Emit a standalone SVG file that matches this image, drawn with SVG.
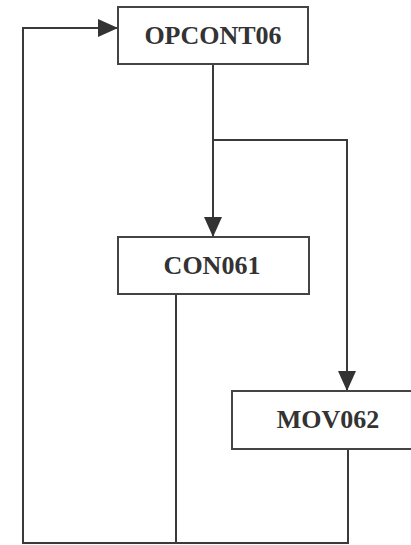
<svg xmlns="http://www.w3.org/2000/svg" width="411" height="545" viewBox="0 0 411 545">
<style>
.box{fill:#fff;stroke:#444;stroke-width:2}
.lbl{font-family:"Liberation Serif","Times New Roman",serif;font-weight:bold;font-size:26px;fill:#333;text-anchor:middle}
.ln{fill:none;stroke:#3a3a3a;stroke-width:2}
</style>
<defs>
<marker id="ah" markerWidth="20" markerHeight="18" refX="20" refY="9" orient="auto" markerUnits="userSpaceOnUse">
<path d="M0,0 L20,9 L0,18 Z" fill="#333"/>
</marker>
</defs>
<g id="connectors">
<path class="ln" d="M213,64 V237" marker-end="url(#ah)"/>
<path class="ln" d="M213,140 H347 V391" marker-end="url(#ah)"/>
<path class="ln" d="M176,294 V543 H23 V28 H118" marker-end="url(#ah)"/>
<path class="ln" d="M348,449 V543 H176"/>
</g>
<g id="OPCONT06">
<rect class="box" x="118" y="7" width="190" height="57"/>
<text class="lbl" x="213" y="44">OPCONT06</text>
</g>
<g id="CON061">
<rect class="box" x="118" y="237" width="191" height="57"/>
<text class="lbl" x="212" y="274">CON061</text>
</g>
<g id="MOV062">
<rect class="box" x="232" y="391" width="190" height="58"/>
<text class="lbl" x="328" y="428">MOV062</text>
</g>
</svg>
